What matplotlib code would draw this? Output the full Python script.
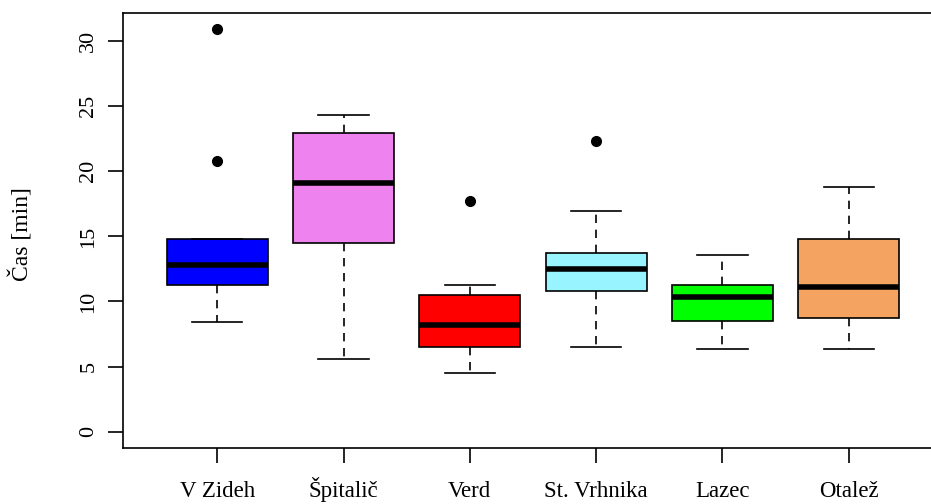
import matplotlib
matplotlib.use("Agg")
import matplotlib.pyplot as plt

# Travel times per location (minutes): five-number summaries and outliers
locations = ["V Zideh", "Špitalič", "Verd", "St. Vrhnika", "Lazec", "Otalež"]
whisker_low = [8.46, 5.58, 4.50, 6.47, 6.35, 6.35]
q1 = [11.23, 14.48, 6.47, 10.77, 8.49, 8.77]
median = [12.80, 19.10, 8.21, 12.51, 10.36, 11.10]
q3 = [14.81, 22.95, 10.51, 13.71, 11.28, 14.81]
whisker_high = [14.81, 24.33, 11.28, 16.96, 13.56, 18.78]
outliers = [[30.90, 20.80], [], [17.73], [22.33], [], []]
box_colors = ["#0000FF", "#EE82EE", "#FF0000", "#98F5FF", "#00FF00", "#F4A460"]
y_ticks = [0, 5, 10, 15, 20, 25, 30]

plt.rcParams["font.family"] = ["Liberation Serif", "DejaVu Serif"]

fig = plt.figure(figsize=(9.31, 5.04), dpi=100)
ax = fig.add_axes([0.1325, 0.1117, 0.8796, 0.8631])

stats = []
for i, name in enumerate(locations):
    stats.append({
        "label": name,
        "whislo": whisker_low[i],
        "q1": q1[i],
        "med": median[i],
        "q3": q3[i],
        "whishi": whisker_high[i],
        "fliers": outliers[i],
    })

positions = list(range(1, len(locations) + 1))
bp = ax.bxp(
    stats,
    positions=positions,
    widths=0.8,
    capwidths=0.4,
    patch_artist=True,
    showfliers=True,
    boxprops=dict(edgecolor="black", linewidth=1.2),
    medianprops=dict(color="black", linewidth=4, solid_capstyle="butt"),
    whiskerprops=dict(color="black", linewidth=1.2, linestyle=(0, (5, 4))),
    capprops=dict(color="black", linewidth=1.2),
    flierprops=dict(marker="o", markerfacecolor="black", markeredgecolor="black",
                    markersize=7, linestyle="none"),
)
for patch, c in zip(bp["boxes"], box_colors):
    patch.set_facecolor(c)

ax.set_xlim(0.257, 6.74)
ax.set_ylim(-1.23, 32.18)
ax.set_xticks(positions)
ax.set_xticklabels(locations, fontsize=16.5, va="baseline")
ax.set_yticks(y_ticks)
ax.set_yticklabels([str(v) for v in y_ticks], fontsize=16, rotation=90, va="center")
ax.tick_params(axis="both", direction="out", length=11, width=1.2, color="black")
ax.tick_params(axis="x", pad=24.5)
ax.tick_params(axis="y", pad=7)
ax.set_ylabel("Čas [min]", fontsize=17, va="center")
ax.yaxis.set_label_coords(-0.124, 0.49)

for side in ["left", "bottom", "top", "right"]:
    ax.spines[side].set_linewidth(1.2)
    ax.spines[side].set_color("black")

fig.savefig("out.png", dpi=100)
